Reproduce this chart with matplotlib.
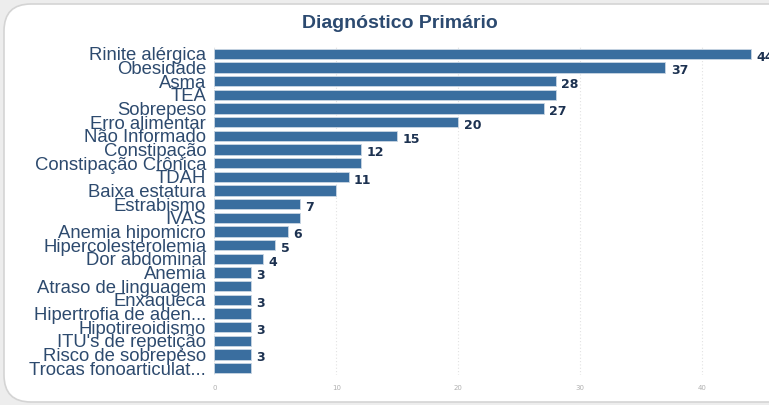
import matplotlib
matplotlib.use("Agg")
import matplotlib.pyplot as plt
from matplotlib.patches import FancyBboxPatch

categories = ["Rinite alérgica", "Obesidade", "Asma", "TEA", "Sobrepeso",
              "Erro alimentar", "Não Informado", "Constipação",
              "Constipação Crônica", "TDAH", "Baixa estatura", "Estrabismo",
              "IVAS", "Anemia hipomicro", "Hipercolesterolemia", "Dor abdominal",
              "Anemia", "Atraso de linguagem", "Enxaqueca", "Hipertrofia de aden...",
              "Hipotireoidismo", "ITU's de repetição", "Risco de sobrepeso",
              "Trocas fonoarticulat..."]
values = [44, 37, 28, 28, 27, 20, 15, 12, 12, 11, 10, 7, 7, 6, 5, 4,
          3, 3, 3, 3, 3, 3, 3, 3]
# which bars show a value label (the dashboard drops some to avoid overlap)
show_label = [1, 1, 1, 0, 1, 1, 1, 1, 0, 1, 0, 1, 0, 1, 1, 1,
              1, 0, 1, 0, 1, 0, 1, 0]
xticks = [0, 10, 20, 30, 40]

bar_color = "#3a6e9f"
label_color = "#1c3150"

fig = plt.figure(figsize=(7.69, 4.05), dpi=100)
fig.patch.set_facecolor("#ededed")

card = FancyBboxPatch((4 / 769, 3 / 405), 1.2, 398 / 405,
                      boxstyle="round,pad=0,rounding_size=0.035",
                      transform=fig.transFigure, facecolor="white",
                      edgecolor="#d4d4d4", linewidth=1.2,
                      mutation_aspect=769 / 405, zorder=-5)
fig.patches.append(card)

ax = fig.add_axes([214.5 / 769, 30 / 405, 1 - 214.5 / 769, 328 / 405])
ax.set_facecolor("none")
ax.set_zorder(2)

y = list(range(len(categories)))
ax.barh(y, values, height=0.76, color=bar_color, edgecolor="#c9d6e3",
        linewidth=0.6, zorder=3)
ax.set_ylim(len(categories) - 0.5, -0.5)
ax.set_xlim(0, 45.5)

ax.set_yticks(y)
ax.set_yticklabels(categories, family="Liberation Sans", fontsize=13.3,
                   color="#2d4a6e")
ax.tick_params(axis="y", length=0, pad=6)
ax.set_xticks(xticks)
ax.set_xticklabels([str(t) for t in xticks], fontsize=5, color="#b0b0b0")
ax.tick_params(axis="x", length=0, pad=7)

ax.grid(axis="x", linestyle=(0, (1, 2)), color="#e2e2e2", linewidth=0.8,
        zorder=0)
for s in ax.spines.values():
    s.set_visible(False)

for yi, v, show in zip(y, values, show_label):
    if show:
        ax.text(v + 0.45, yi + 0.25, str(v), va="center", ha="left",
                fontsize=9, fontweight="bold", color=label_color,
                family="DejaVu Sans", clip_on=False)

fig.text(400 / 769, 1 - 23 / 405, "Diagnóstico Primário", ha="center",
         va="center", fontsize=14, fontweight="bold", color="#2c4a70",
         family="Liberation Sans", zorder=3)

fig.savefig("out.png", dpi=100, facecolor=fig.get_facecolor())
